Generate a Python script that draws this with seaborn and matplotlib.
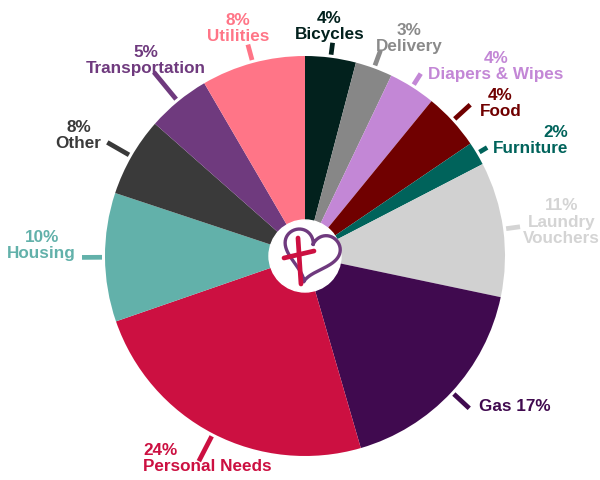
import numpy as np
import matplotlib.pyplot as plt
import seaborn as sns

# slice shares as drawn (clockwise from 12 o'clock) and the printed labels
categories = ["Bicycles", "Delivery", "Diapers & Wipes", "Food", "Furniture",
              "Laundry\nVouchers", "Gas", "Personal Needs", "Housing", "Other",
              "Transportation", "Utilities"]
shares = [4.1, 3.0, 3.8, 4.6, 1.9, 10.9, 17.2, 24.2, 10.4, 6.4, 5.1, 8.4]
pct_labels = ["4%", "3%", "4%", "4%", "2%", "11%", "17%", "24%", "10%", "8%", "5%", "8%"]

colors = ["#02211d", "#878787", "#c387d6", "#700000", "#00635b", "#d1d1d1",
          "#400a4f", "#cc1041", "#62b1aa", "#3a3a3a", "#6f3a7e", "#ff7587"]
text_colors = ["#02211d", "#8a8a8a", "#c387d6", "#700000", "#00635b", "#d4d4d4",
               "#400a4f", "#cc1041", "#62b1aa", "#3a3a3a", "#6f3a7e", "#ff7587"]

# label placement: offset (px, y down) from the point R+15 out, ha, va, multialignment
layout = [(-3, -1, "center", "bottom", "center"),
          (30, 0, "center", "bottom", "center"),
          (8, 8, "left", "bottom", "center"),
          (16, 8, "left", "bottom", "center"),
          (3, 10, "left", "bottom", "right"),
          (5, -5, "left", "center", "center"),
          (16, 4, "left", "center", "left"),
          (-63, -4, "left", "top", "left"),
          (-14, -12, "right", "center", "center"),
          (-17, -13, "right", "center", "center"),
          (-23, -14, "center", "bottom", "center"),
          (-11, -4, "center", "bottom", "center")]
# how far out each leader tick reaches (px from centre)
leader_out = [215, 219, 216, 224, 212, 217, 224, 231, 223, 228, 238, 219]

sns.set_theme(style="white")
plt.rcParams["font.family"] = ["Liberation Sans", "DejaVu Sans"]

W, H = 600, 480
fig = plt.figure(figsize=(6, 4.8), dpi=100)
ax = fig.add_axes([0, 0, 1, 1])

cx, cy, R = 305, H - 256, 200
wedges, _ = ax.pie(shares, colors=colors, startangle=90, counterclock=False,
                   center=(cx, cy), radius=R, wedgeprops=dict(linewidth=0))

for i, w in enumerate(wedges):
    mid = np.deg2rad((w.theta1 + w.theta2) / 2)
    ux, uy = np.cos(mid), np.sin(mid)
    ax.plot([cx + (R + 3) * ux, cx + leader_out[i] * ux],
            [cy + (R + 3) * uy, cy + leader_out[i] * uy],
            color=text_colors[i], lw=3.4, solid_capstyle="butt")
    x1, y1 = cx + (R + 15) * ux, cy + (R + 15) * uy
    dx, dy, ha, va, ma = layout[i]
    if categories[i] == "Gas":
        label = f"{categories[i]} {pct_labels[i]}"
    else:
        label = f"{pct_labels[i]}\n{categories[i]}"
    ax.text(x1 + dx, y1 - dy, label, color=text_colors[i], fontsize=12.3,
            fontweight="bold", ha=ha, va=va, multialignment=ma,
            linespacing=1.1)

# centre logo: white disc with heart and cross
ax.add_patch(plt.Circle((cx, cy), 36, color="white", zorder=5))
t = np.linspace(0, 2 * np.pi, 200)
hx = 16 * np.sin(t) ** 3
hy = 13 * np.cos(t) - 5 * np.cos(2 * t) - 2 * np.cos(3 * t) - np.cos(4 * t)
rot = np.deg2rad(-14)
hx, hy = hx * np.cos(rot) - hy * np.sin(rot), hx * np.sin(rot) + hy * np.cos(rot)
ax.plot(cx + 6 + 1.75 * hx, cy + 3 + 1.75 * hy, color="#6f3a7e", lw=2.4, zorder=6)
ax.plot([cx - 7, cx - 4], [cy + 18, cy - 28], color="#cc1041", lw=3.4,
        solid_capstyle="round", zorder=7)
ax.plot([cx - 21, cx + 9], [cy - 2, cy + 5], color="#cc1041", lw=3.4,
        solid_capstyle="round", zorder=7)

ax.set_xlim(0, W)
ax.set_ylim(0, H)
ax.axis("off")

fig.savefig("out.png", dpi=100, facecolor="white")
